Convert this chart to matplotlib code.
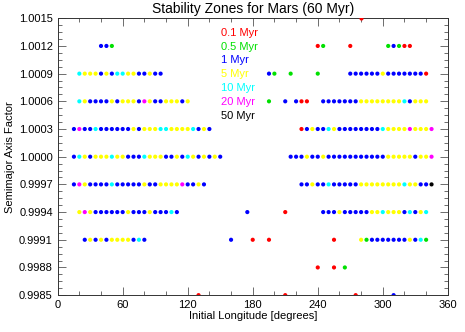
import numpy as np
import matplotlib
matplotlib.use("Agg")
import matplotlib.pyplot as plt

plt.rcParams["font.family"] = ["Liberation Sans", "DejaVu Sans"]

# survival time classes (Myr)
dur_values = [0.1, 0.5, 1, 5, 10, 20, 50]
dur_labels = ["0.1 Myr", "0.5 Myr", "1 Myr", "5 Myr", "10 Myr", "20 Myr", "50 Myr"]
dur_colors = ["#ff0000", "#00e000", "#0000ff", "#ffff00", "#00ffff", "#ff00ff", "#000000"]

# one row per semimajor axis factor: initial longitudes and survival times
a_10015 = 1.0015
lon_10015 = [280]
dur_10015 = [0.1]

a_10012 = 1.0012
lon_10012 = [40, 45, 50, 240, 245, 270, 305, 310, 315, 320, 325]
dur_10012 = [1, 1, 0.5, 0.1, 0.5, 0.1, 0.5, 1, 0.5, 0.1, 0.1]

a_10009 = 1.0009
lon_10009 = [20, 25, 30, 35, 40, 45, 50, 55, 60, 65, 70, 75, 80, 85, 90, 95,
             195, 200, 215, 240,
             270, 275, 280, 285, 290, 295, 300, 305, 310, 315, 320, 325, 330, 335, 340]
dur_10009 = [10, 5, 5, 5, 1, 5, 1, 10, 10, 5, 5, 1, 1, 5, 1, 1,
             1, 0.5, 0.5, 0.5,
             1, 1, 1, 1, 1, 1, 5, 1, 1, 1, 1, 1, 1, 1, 0.1]

a_10006 = 1.0006
lon_10006 = [20, 25, 30, 35, 40, 45, 50, 55, 60, 65, 70, 75, 80, 85, 90, 95, 100, 105, 110, 115, 120,
             195, 210, 220, 225, 230,
             245, 250, 255, 260, 265, 270, 275, 280, 285, 290, 295, 300, 305, 310, 315, 320, 325, 330, 335, 340]
dur_10006 = [10, 5, 1, 1, 1, 1, 5, 1, 5, 5, 5, 1, 20, 5, 1, 1, 5, 5, 5, 1, 5,
             0.5, 1, 1, 0.1, 0.1,
             1, 1, 1, 1, 1, 1, 1, 5, 5, 5, 5, 5, 5, 5, 5, 10, 1, 5, 5, 5]

a_10003 = 1.0003
lon_10003 = [15, 20, 25, 30, 35, 40, 45, 50, 55, 60, 65, 70, 75, 80, 85, 90, 95, 100, 105, 110, 115, 120,
             125, 130, 135, 140,
             225, 230, 235, 240, 245, 250, 255, 260, 265, 270, 275, 280, 285, 290, 295, 300, 305, 310, 315,
             320, 325, 330, 335, 340, 345]
dur_10003 = [1, 20, 1, 1, 10, 1, 1, 1, 1, 1, 1, 5, 1, 5, 5, 5, 10, 10, 5, 5, 5, 5,
             10, 1, 5, 1,
             0.1, 1, 5, 1, 1, 10, 5, 1, 1, 1, 1, 1, 1, 1, 1, 10, 5, 5, 5,
             5, 20, 5, 5, 5, 20]

a_10000 = 1.0000
lon_10000 = [15, 20, 25, 30, 35, 40, 45, 50, 55, 60, 65, 70, 75, 80, 85, 90, 95, 100, 105, 110, 115, 120,
             125, 130, 135, 140, 145, 150,
             215, 220, 225, 230, 235, 240, 245, 250, 255, 260, 265, 270, 275, 280, 285, 290, 295, 300,
             305, 310, 315, 320, 325, 330, 335, 340, 345]
dur_10000 = [1, 10, 5, 1, 5, 5, 5, 10, 5, 5, 1, 1, 1, 10, 5, 5, 5, 1, 1, 5, 1, 10,
             5, 1, 5, 1, 5, 1,
             1, 1, 1, 5, 1, 1, 5, 1, 1, 1, 1, 1, 1, 1, 1, 1, 1, 1,
             5, 5, 5, 5, 5, 1, 5, 5, 20]

a_09997 = 0.9997
lon_09997 = [15, 20, 25, 30, 35, 40, 45, 50, 55, 60, 65, 70, 75, 80, 85, 90, 95, 100, 105, 110, 115, 120,
             125, 130, 135,
             225, 230, 235, 240, 245, 250, 255, 260, 265, 270, 275, 280, 285, 290, 295, 300, 305, 310, 315,
             320, 325, 330, 335, 340, 345]
dur_09997 = [1, 20, 5, 1, 1, 1, 1, 10, 1, 1, 1, 1, 1, 5, 1, 1, 5, 5, 5, 5, 20, 1,
             1, 5, 1,
             1, 1, 5, 1, 1, 10, 1, 1, 1, 1, 1, 5, 5, 5, 5, 5, 5, 5, 5,
             10, 5, 5, 1, 1, 50]

a_09994 = 0.9994
lon_09994 = [20, 25, 30, 35, 40, 45, 50, 55, 60, 65, 70, 75, 80, 85, 90, 95, 100, 105, 110,
             175, 210,
             245, 250, 255, 260, 265, 270, 275, 280, 285, 290, 295, 300, 305, 310, 315, 320, 325, 330, 335, 340]
dur_09994 = [5, 20, 5, 1, 1, 1, 1, 1, 1, 5, 1, 1, 1, 5, 1, 1, 1, 10, 1,
             1, 0.1,
             1, 1, 1, 5, 1, 1, 1, 1, 1, 5, 5, 10, 5, 5, 5, 1, 10, 1, 5, 10]

a_09991 = 0.9991
lon_09991 = [25, 30, 35, 40, 45, 50, 55, 60, 65, 70, 75, 80,
             160, 180, 195, 255,
             280, 285, 290, 295, 300, 305, 310, 315, 320, 325, 330, 335, 340]
dur_09991 = [1, 5, 1, 5, 1, 5, 5, 5, 5, 1, 10, 1,
             1, 0.1, 0.1, 0.1,
             5, 0.5, 1, 1, 1, 1, 1, 1, 1, 5, 1, 10, 0.5]

a_09988 = 0.9988
lon_09988 = [240, 255, 265]
dur_09988 = [0.1, 0.1, 0.5]

a_09985 = 0.9985
lon_09985 = [130, 210, 275, 310]
dur_09985 = [0.1, 0.1, 0.1, 1]

rows = [
    (a_10015, lon_10015, dur_10015),
    (a_10012, lon_10012, dur_10012),
    (a_10009, lon_10009, dur_10009),
    (a_10006, lon_10006, dur_10006),
    (a_10003, lon_10003, dur_10003),
    (a_10000, lon_10000, dur_10000),
    (a_09997, lon_09997, dur_09997),
    (a_09994, lon_09994, dur_09994),
    (a_09991, lon_09991, dur_09991),
    (a_09988, lon_09988, dur_09988),
    (a_09985, lon_09985, dur_09985),
]

color_of = dict(zip(dur_values, dur_colors))

fig = plt.figure(figsize=(4.65, 3.32), dpi=100)
ax = fig.add_axes([0.124, 0.111, 0.839, 0.834])

for a, lons, durs in rows:
    cols = [color_of[d] for d in durs]
    ax.scatter(lons, [a] * len(lons), s=9, c=cols, linewidths=0, zorder=3)

ax.set_xlim(0, 360)
ax.set_ylim(0.9985, 1.0015)
ax.set_xticks([0, 60, 120, 180, 240, 300, 360])
ax.set_xticks(np.arange(0, 361, 20), minor=True)
yt = np.linspace(0.9985, 1.0015, 11)
ax.set_yticks(yt)
ax.set_yticklabels(["%.4f" % v for v in yt])
ax.set_yticks(np.linspace(0.9985, 1.0015, 41), minor=True)
ax.tick_params(which="both", direction="in", top=True, right=True, labelsize=8,
               color="#555555", width=0.6)
ax.tick_params(which="major", length=6)
ax.tick_params(which="minor", length=3)
for sp in ax.spines.values():
    sp.set_linewidth(0.7)
    sp.set_color("#333333")

ax.set_title("Stability Zones for Mars (60 Myr)", fontsize=10, pad=4)
ax.set_xlabel("Initial Longitude [degrees]", fontsize=8, labelpad=1)
ax.set_ylabel("Semimajor Axis Factor", fontsize=8, labelpad=3)

for i, (lab, col) in enumerate(zip(dur_labels, dur_colors)):
    ax.text(0.419, 1 - 0.052 - i * 0.05, lab, color=col, fontsize=8,
            transform=ax.transAxes, va="center", ha="left")

fig.savefig("out.png", dpi=100)
